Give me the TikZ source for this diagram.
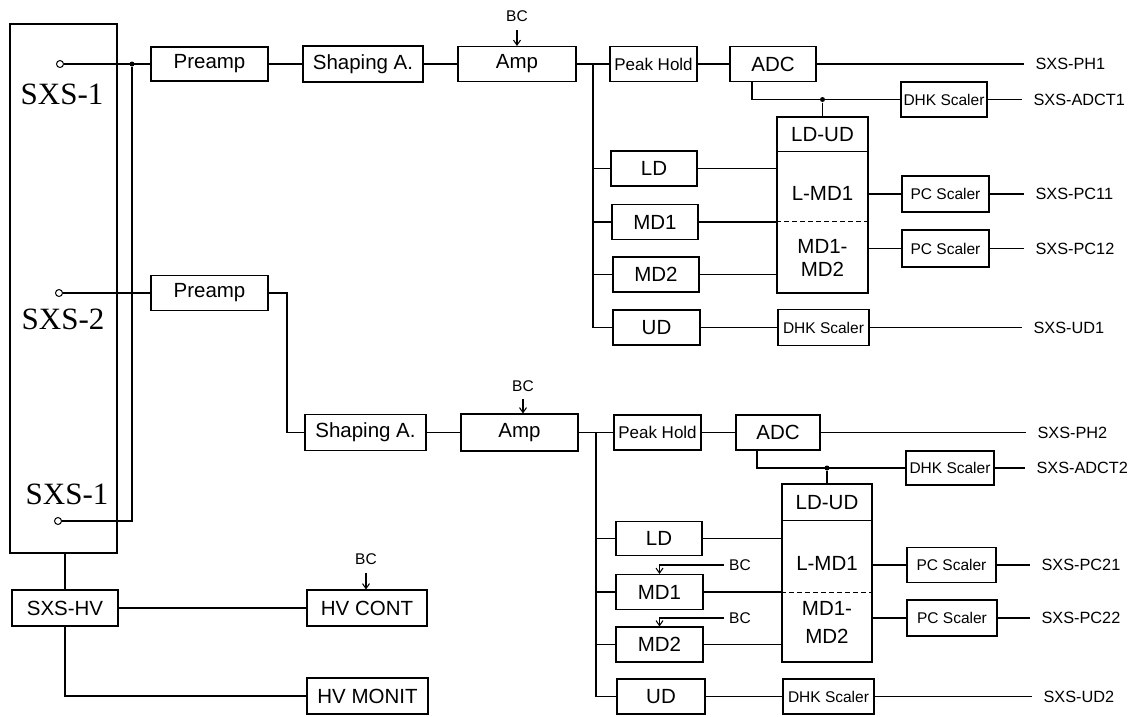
\documentclass[tikz,border=0pt]{standalone}
\usepackage{fontspec}
\setmainfont{Liberation Sans}
\newfontfamily\sxsserif{Liberation Serif}
\usetikzlibrary{arrows.meta,calc}
\begin{document}
\begin{tikzpicture}[x=1pt,y=-1pt, line width=1.05pt,
  box/.style={draw, rectangle, inner sep=0pt, font=\fontsize{20.5}{24}\selectfont},
  sbox/.style={draw, rectangle, inner sep=0pt, font=\fontsize{15.5}{18}\selectfont},
  phbox/.style={draw, rectangle, inner sep=0pt, font=\fontsize{17}{20}\selectfont},
  txt/.style={inner sep=0pt, font=\fontsize{20.5}{24}\selectfont},
  lbl/.style={inner sep=0pt, anchor=west, font=\fontsize{16.3}{19}\selectfont},
  sxs/.style={inner sep=0pt, font=\sxsserif\fontsize{31}{36}\selectfont},
  bcl/.style={inner sep=0pt, font=\fontsize{15.5}{18}\selectfont},
  term/.style={circle, draw, line width=1pt, inner sep=0pt, minimum size=7pt, fill=white},
  jdot/.style={circle, fill, inner sep=0pt, minimum size=5pt},
  arr/.style={-{Straight Barb[length=5pt,width=7pt]}},
  outl/.style={shorten >=11pt},
]
\path[use as bounding box] (0,0) rectangle (1135,716);

% ---------------- detector rack ----------------
\node[draw, rectangle, inner sep=0pt, minimum width=107pt, minimum height=529pt] (rack) at (63.5,288.5) {};
\node[sxs] (s1) at (62,94) {SXS-1};
\node[sxs] (s2) at (63,319) {SXS-2};
\node[sxs] (s3) at (67,494) {SXS-1};
\node[term] (t1) at (60,64) {};
\node[term] (t2) at (59,293) {};
\node[term] (t3) at (58,521) {};
\node[jdot] (j1) at (132,64) {};

% ---------------- chain 1 ----------------
\node[box, minimum width=117pt, minimum height=34pt] (pre1) at (209.5,64) {Preamp};
\node[box, minimum width=120pt, minimum height=36pt] (sh1) at (363,64) {Shaping A.};
\node[box, minimum width=118pt, minimum height=35pt] (amp1) at (517,64) {Amp};
\node[phbox, minimum width=87pt, minimum height=35pt] (ph1) at (653.5,64) {Peak Hold};
\node[box, minimum width=86pt, minimum height=35pt] (adc1) at (773,64) {ADC};
\node[bcl] (bc1) at (517,16) {BC};

\node[box, minimum width=86pt, minimum height=35pt] (ld1) at (654,168.5) {LD};
\node[box, minimum width=86pt, minimum height=35pt] (md1a) at (655,222) {MD1};
\node[box, minimum width=86pt, minimum height=35pt] (md2a) at (656,274.5) {MD2};
\node[box, minimum width=87pt, minimum height=35pt] (ud1) at (656.5,327.5) {UD};

\node[draw, rectangle, inner sep=0pt, minimum width=91pt, minimum height=176pt] (ldud1) at (822.5,205) {};
\draw ([yshift=-35pt]ldud1.north west) -- ([yshift=-35pt]ldud1.north east);
\draw[dashed, dash pattern=on 5pt off 3pt] ([yshift=-105pt]ldud1.north west) -- ([yshift=-105pt]ldud1.north east);
\node[txt] (ldud1a) at (822.5,135) {LD-UD};
\node[txt] (ldud1b) at (822.5,193) {L-MD1};
\node[txt] (ldud1c) at (822.5,246) {MD1-};
\node[txt] (ldud1d) at (822.5,269) {MD2};

\node[sbox, minimum width=86pt, minimum height=35pt] (dhk1) at (944,99.5) {DHK Scaler};
\node[sbox, minimum width=87pt, minimum height=36pt] (pc11) at (945.5,194) {PC Scaler};
\node[sbox, minimum width=87pt, minimum height=37pt] (pc12) at (945.5,248.5) {PC Scaler};
\node[sbox, minimum width=91pt, minimum height=36pt] (dhkud1) at (823.5,327.5) {DHK Scaler};

\node[lbl] (oph1) at (1035,64) {SXS-PH1};
\node[lbl] (oadct1) at (1033,99.5) {SXS-ADCT1};
\node[lbl] (opc11) at (1035,194) {SXS-PC11};
\node[lbl] (opc12) at (1035,248.5) {SXS-PC12};
\node[lbl] (oud1) at (1033,327.5) {SXS-UD1};

% ---------------- chain 2 ----------------
\node[box, minimum width=117pt, minimum height=35pt] (pre2) at (209.5,293) {Preamp};
\node[box, minimum width=121pt, minimum height=36pt] (sh2) at (365.5,432.5) {Shaping A.};
\node[box, minimum width=117pt, minimum height=37pt] (amp2) at (519.5,432.5) {Amp};
\node[phbox, minimum width=87pt, minimum height=35pt] (ph2) at (657.5,432.5) {Peak Hold};
\node[box, minimum width=84pt, minimum height=35pt] (adc2) at (778,432.5) {ADC};
\node[bcl] (bc2) at (523,386) {BC};

\node[box, minimum width=86pt, minimum height=34pt] (ld2) at (659,538.5) {LD};
\node[box, minimum width=87pt, minimum height=35pt] (md1b) at (659.5,592) {MD1};
\node[box, minimum width=87pt, minimum height=35pt] (md2b) at (659.5,644.5) {MD2};
\node[box, minimum width=88pt, minimum height=35pt] (ud2) at (661,696.5) {UD};
\node[bcl] (bcm1) at (740,565) {BC};
\node[bcl] (bcm2) at (740,618) {BC};

\node[draw, rectangle, inner sep=0pt, minimum width=90pt, minimum height=178pt] (ldud2) at (827,573) {};
\draw ([yshift=-37pt]ldud2.north west) -- ([yshift=-37pt]ldud2.north east);
\draw[dashed, dash pattern=on 5pt off 3pt] ([yshift=-109pt]ldud2.north west) -- ([yshift=-109pt]ldud2.north east);
\node[txt] (ldud2a) at (827,503) {LD-UD};
\node[txt] (ldud2b) at (827,563) {L-MD1};
\node[txt] (ldud2c) at (827,608) {MD1-};
\node[txt] (ldud2d) at (827,636) {MD2};

\node[sbox, minimum width=88pt, minimum height=34pt] (dhk2) at (950,468) {DHK Scaler};
\node[sbox, minimum width=89pt, minimum height=35pt] (pc21) at (951.5,565) {PC Scaler};
\node[sbox, minimum width=90pt, minimum height=36pt] (pc22) at (952,618) {PC Scaler};
\node[sbox, minimum width=91pt, minimum height=35pt] (dhkud2) at (828.5,696.5) {DHK Scaler};

\node[lbl] (oph2) at (1037,432.5) {SXS-PH2};
\node[lbl] (oadct2) at (1036,468) {SXS-ADCT2};
\node[lbl] (opc21) at (1041,565) {SXS-PC21};
\node[lbl] (opc22) at (1041,618) {SXS-PC22};
\node[lbl] (oud2) at (1043,696.5) {SXS-UD2};

% ---------------- HV ----------------
\node[box, minimum width=106pt, minimum height=36pt] (hv) at (65,608) {SXS-HV};
\node[box, minimum width=120pt, minimum height=36pt] (hvc) at (367,608) {HV CONT};
\node[box, minimum width=121pt, minimum height=36pt] (hvm) at (367.5,696) {HV MONIT};
\node[bcl] (bc3) at (366,559) {BC};

% ---------------- connectors ----------------
\draw (t1) -- (pre1.west);
\draw (j1) |- (t3);
\draw (t2) -- (pre2.west);

\draw (pre1) -- (sh1);
\draw (sh1) -- (amp1);
\draw (amp1) -- (ph1);
\draw (ph1) -- (adc1);
\draw[arr, shorten <=8pt] (bc1.south) -- (amp1.north);
\coordinate (b1) at (593,64);
\draw (b1) |- (ud1.west);
\draw (b1 |- ld1.west) -- (ld1.west);
\draw (b1 |- md1a.west) -- (md1a.west);
\draw (b1 |- md2a.west) -- (md2a.west);
\draw (ld1.east) -- (ld1.east -| ldud1.west);
\draw (md1a.east) -- (md1a.east -| ldud1.west);
\draw (md2a.east) -- (md2a.east -| ldud1.west);
\draw (pc11.west -| ldud1.east) -- (pc11.west);
\draw (pc12.west -| ldud1.east) -- (pc12.west);
\draw ([xshift=-21pt]adc1.south) |- (dhk1.west);
\node[jdot] (j2) at (ldud1.north |- dhk1.west) {};
\draw (j2) -- (ldud1.north);
\draw (ud1) -- (dhkud1);
\draw[outl] (adc1.east) -- (oph1.west);
\draw[outl] (dhk1.east) -- (oadct1.west);
\draw[outl] (pc11.east) -- (opc11.west);
\draw[outl] (pc12.east) -- (opc12.west);
\draw[outl] (dhkud1.east) -- (oud1.west);

\coordinate (bend2) at (287,360);
\draw (pre2.east) -| (bend2) |- (sh2.west);
\draw (sh2) -- (amp2);
\draw (amp2) -- (ph2);
\draw (ph2) -- (adc2);
\draw[arr, shorten <=7pt] (bc2.south) -- (bc2.south |- amp2.north);
\coordinate (b2) at (596,432.5);
\draw (b2) |- (ud2.west);
\draw (b2 |- ld2.west) -- (ld2.west);
\draw (b2 |- md1b.west) -- (md1b.west);
\draw (b2 |- md2b.west) -- (md2b.west);
\draw (ld2.east) -- (ld2.east -| ldud2.west);
\draw (md1b.east) -- (md1b.east -| ldud2.west);
\draw (md2b.east) -- (md2b.east -| ldud2.west);
\draw[arr, shorten <=5pt] (bcm1.west) -| (md1b.north);
\draw[arr, shorten <=5pt] (bcm2.west) -| (md2b.north);
\draw (pc21.west -| ldud2.east) -- (pc21.west);
\draw (pc22.west -| ldud2.east) -- (pc22.west);
\draw ([xshift=-21pt]adc2.south) |- (dhk2.west);
\node[jdot] (j3) at (ldud2.north |- dhk2.west) {};
\draw (j3) -- (ldud2.north);
\draw (ud2) -- (dhkud2);
\draw[outl] (adc2.east) -- (oph2.west);
\draw[outl] (dhk2.east) -- (oadct2.west);
\draw[outl] (pc21.east) -- (opc21.west);
\draw[outl] (pc22.east) -- (opc22.west);
\draw[outl] (dhkud2.east) -- (oud2.west);

\draw (rack.south -| hv.north) -- (hv.north);
\draw (hv.east) -- (hvc.west);
\draw (hv.south) |- (hvm.west);
\draw[arr, shorten <=8pt] (bc3.south) -- (bc3.south |- hvc.north);
\end{tikzpicture}
\end{document}
